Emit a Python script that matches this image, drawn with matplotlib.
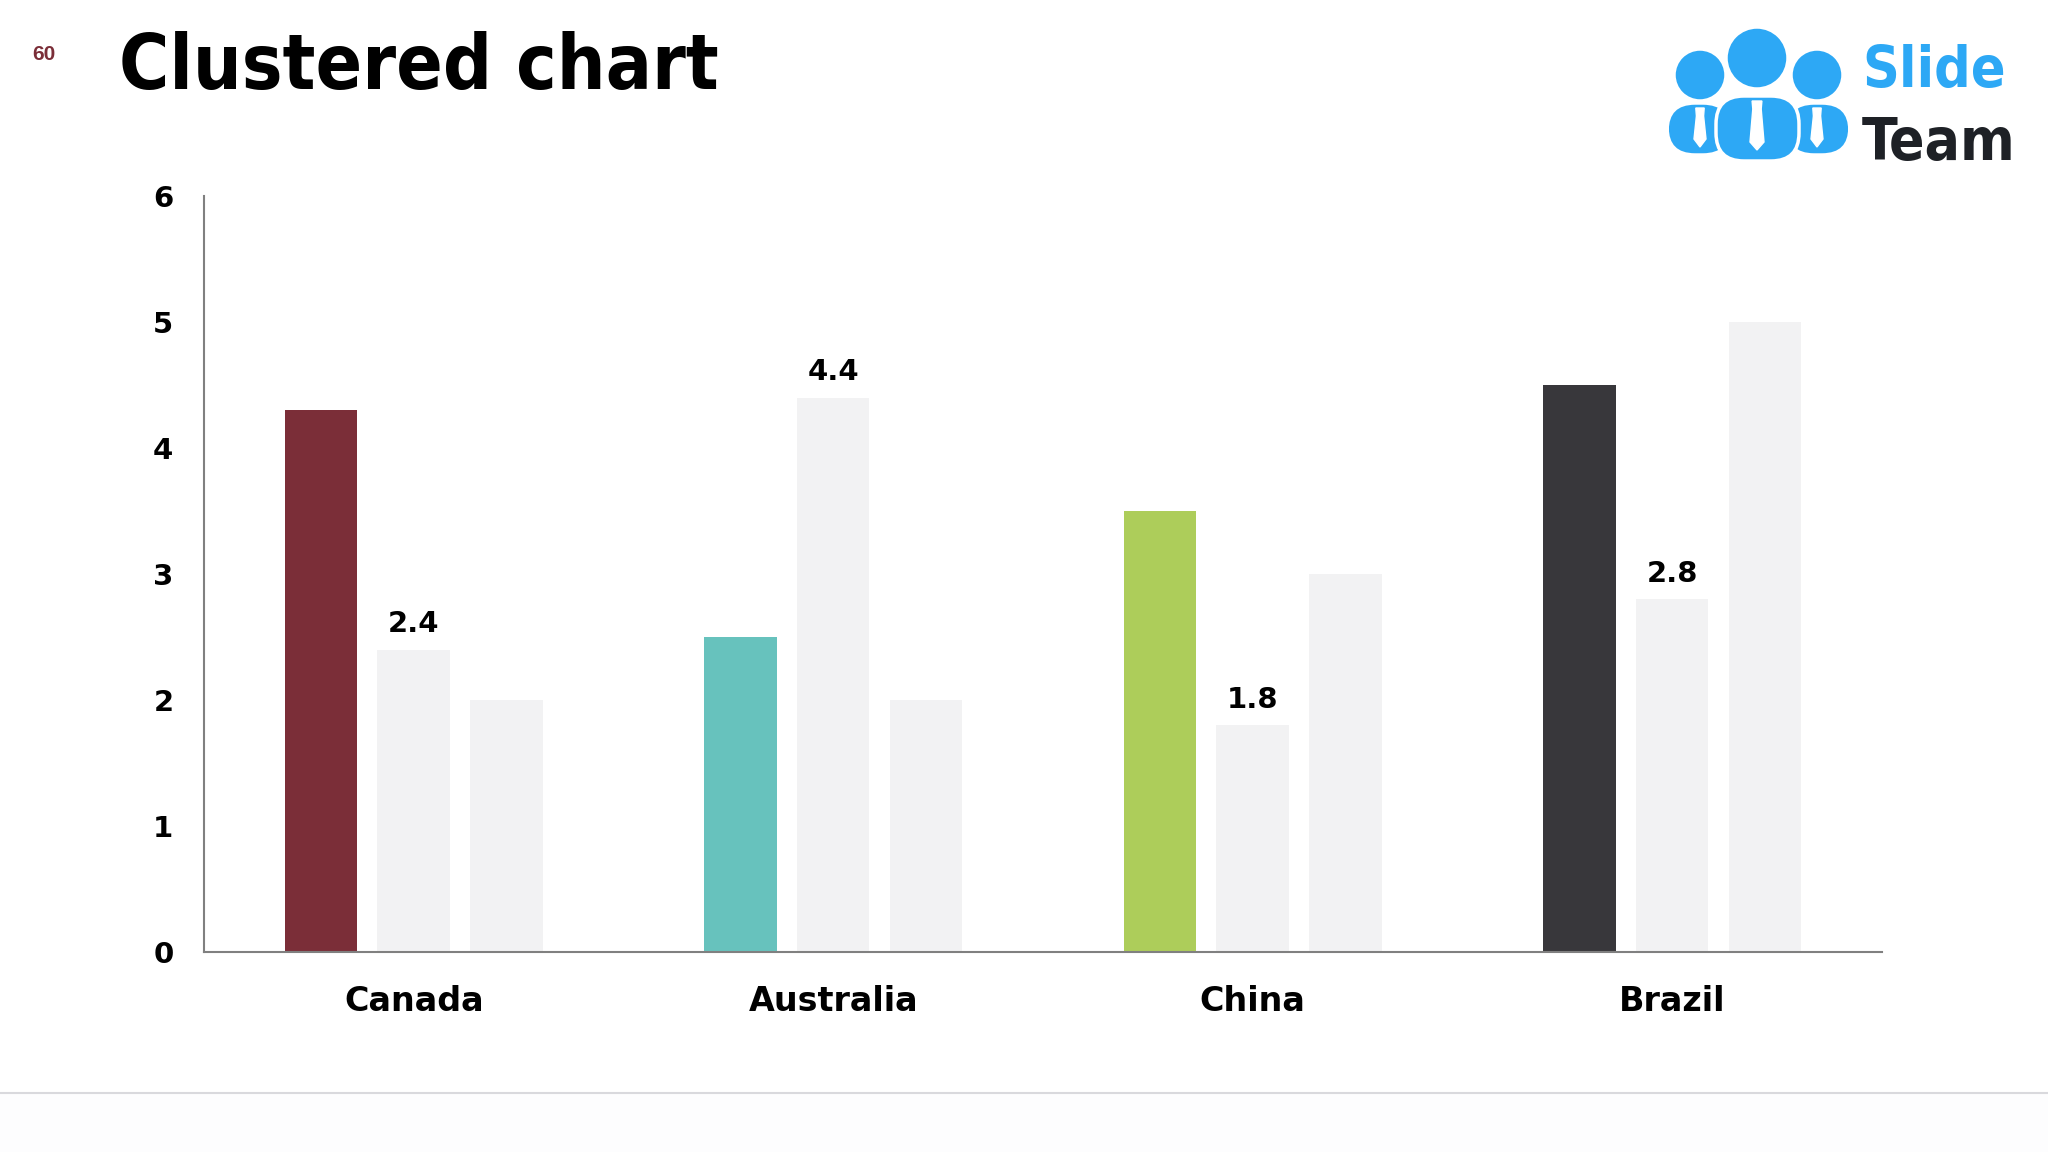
import matplotlib
matplotlib.use('Agg')
from matplotlib import pyplot as plt
from matplotlib.patches import Circle, FancyBboxPatch, Polygon, Rectangle
import numpy as np

categories = ['Canada', 'Australia', 'China', 'Brazil']
series_1 = [4.3, 2.5, 3.5, 4.5]
series_2 = [2.4, 4.4, 1.8, 2.8]
series_3 = [2.0, 2.0, 3.0, 5.0]
y_ticks = [0, 1, 2, 3, 4, 5, 6]

accent_colors = ['#7B2E38', '#67C2BD', '#ADCD5A', '#38373B']
light_color = '#F2F2F3'
logo_blue = '#2DA8F5'

plt.rcParams['font.family'] = 'DejaVu Sans'

fig = plt.figure(figsize=(20.48, 11.52), dpi=100)
fig.patch.set_facecolor('white')

# main chart
ax = fig.add_axes([0.0996, 0.1736, 0.8193, 0.6563])
x = np.arange(len(categories))
width = 0.173
step = 0.221

ax.bar(x - step, series_1, width=width, color=accent_colors, zorder=2)
bars_mid = ax.bar(x, series_2, width=width, color=light_color, zorder=2)
ax.bar(x + step, series_3, width=width, color=light_color, zorder=2)

for bar, val in zip(bars_mid, series_2):
    ax.annotate(f'{val:.1f}', (bar.get_x() + bar.get_width() / 2, bar.get_height()),
                xytext=(0, 8), textcoords='offset points', ha='center', va='bottom',
                fontsize=21, fontweight='bold', color='black')

ax.set_xlim(-0.5, len(categories) - 0.5)
ax.set_ylim(0, 6)
ax.set_yticks(y_ticks)
ax.set_yticklabels([str(t) for t in y_ticks], fontsize=21, fontweight='bold')
ax.set_xticks(x)
ax.set_xticklabels(categories, fontsize=24, fontweight='bold')
ax.tick_params(axis='y', length=0, pad=22)
ax.tick_params(axis='x', length=0, pad=24)

for side in ['top', 'right']:
    ax.spines[side].set_visible(False)
for side in ['left', 'bottom']:
    ax.spines[side].set_color('#808080')
    ax.spines[side].set_linewidth(1.5)

# header, logo and footer line drawn in pixel coordinates
deco = fig.add_axes([0, 0, 1, 1], zorder=-1)
deco.set_xlim(0, 2048)
deco.set_ylim(1152, 0)
deco.axis('off')

fig.text(32 / 2048, 1 - 54 / 1152, '60', fontsize=15, fontweight='bold',
         color='#7B2E38', family=['Liberation Sans Narrow', 'Liberation Sans'],
         va='center', ha='left')
fig.text(119 / 2048, 1 - 89 / 1152, 'Clustered chart', fontsize=55,
         fontweight='bold', fontstretch='condensed', color='black',
         va='baseline', ha='left')

# logo people: bodies first, then heads on top
people = [(1700, 75, 26, 1667, 1731, 103, 155),
          (1817, 75, 26, 1786, 1850, 103, 155),
          (1757, 58, 31, 1716, 1799, 96, 161)]
for cx, cy, r, bx0, bx1, by0, by1 in people:
    deco.add_patch(FancyBboxPatch((bx0, by0), bx1 - bx0, by1 - by0,
                                  boxstyle='round,pad=0,rounding_size=28',
                                  fc=logo_blue, ec='white', lw=2.5))
for cx, cy, r, bx0, bx1, by0, by1 in people:
    deco.add_patch(Circle((cx, cy), r, fc=logo_blue, ec='white', lw=2.5))
    tw = 6 if r < 30 else 7
    tl = 44 if r < 30 else 54
    deco.add_patch(Polygon([(cx - tw * 0.7, by0 + 5), (cx + tw * 0.7, by0 + 5),
                            (cx + tw * 0.6, by0 + 13), (cx + tw, tl - 8 + by0),
                            (cx, by0 + tl), (cx - tw, tl - 8 + by0),
                            (cx - tw * 0.6, by0 + 13)], closed=True, color='white'))

deco.text(1862, 87, 'Slide', fontsize=41, fontweight='bold', fontstretch='condensed',
          color=logo_blue, va='baseline', ha='left')
deco.text(1862, 160, 'Team', fontsize=42, fontweight='bold', fontstretch='condensed',
          color='#1E2126', va='baseline', ha='left')

# footer
deco.add_patch(Rectangle((0, 1094), 2048, 58, color='#FDFDFE', lw=0))
deco.plot([0, 2048], [1093, 1093], color='#D9D9DD', lw=1.5)

fig.savefig('out.png', dpi=100)
